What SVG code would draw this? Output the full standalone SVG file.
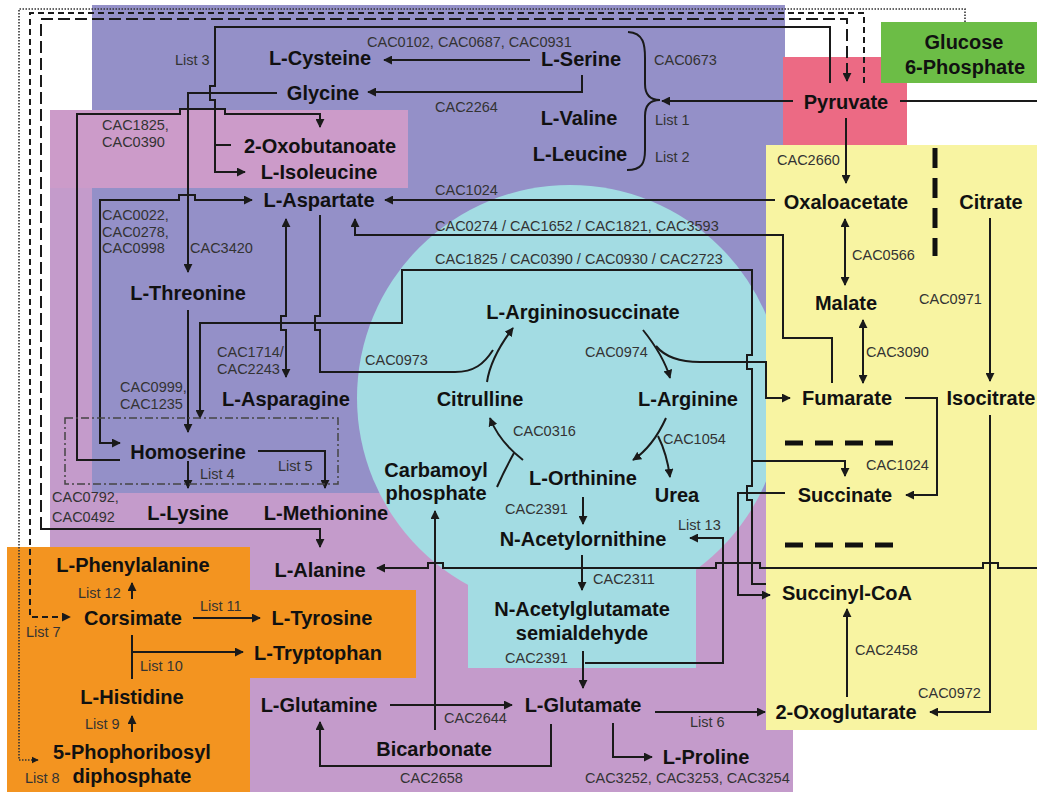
<svg xmlns="http://www.w3.org/2000/svg" width="1037" height="792" viewBox="0 0 1037 792">
<style>
.n{font-family:"Liberation Sans",Arial,sans-serif;font-weight:bold;font-size:20px;fill:#111;text-anchor:middle}
.l{font-family:"Liberation Sans",Arial,sans-serif;font-size:14.5px;fill:#333}
.c{stroke:#1a1a1a;stroke-width:2;fill:none}
.thin{stroke:#333;stroke-width:1.6;fill:none}
</style>
<defs>
<marker id="a" viewBox="0 0 10 10" refX="9" refY="5" markerWidth="4.5" markerHeight="4.5" orient="auto-start-reverse">
<path d="M0,0 L10,5 L0,10 z" fill="#1a1a1a"/>
</marker>
</defs>
<g id="background">
<rect x="50" y="110" width="743" height="682" fill="#c49bcb"/>
<rect x="92" y="5" width="693" height="488" fill="#9490c8"/>
<rect x="50" y="110" width="358" height="78" fill="#cc9bc9"/>
<circle cx="570" cy="398" r="213" fill="#a3dce3"/>
<rect x="468" y="560" width="228" height="108" fill="#a3dce3"/>
<rect x="783" y="57" width="124" height="90" fill="#ec6a84"/>
<rect x="766" y="145" width="271" height="585" fill="#f8f4a2"/>
<rect x="881" y="22" width="156" height="61" fill="#6cbd46"/>
<rect x="7" y="547" width="243" height="245" fill="#f39420"/>
<rect x="250" y="590" width="166" height="88" fill="#f39420"/>
</g>
<g id="connectors">
<path class="thin" d="M965 22 V9 H19 V760 H38" stroke-dasharray="1.5 1.5" marker-end="url(#a)"/>
<path class="c" d="M864 83 V13 H30 V617 H70" stroke-dasharray="6 4" marker-end="url(#a)"/>
<path class="c" d="M41 529 V19 H847 V81" stroke-width="2.5" stroke-dasharray="12 5" marker-end="url(#a)"/>
<path class="c" d="M41 520 V529 H320 V547" marker-end="url(#a)"/>
<path class="c" d="M830 83 V27 H215 V86 h-5 v14 h5 V172 H245" marker-end="url(#a)"/>
<path class="c" d="M215 145 H231"/>
<path class="c" d="M530 60 H384" marker-end="url(#a)"/>
<path class="c" d="M582 75 V92 H368" marker-end="url(#a)"/>
<path class="c" d="M793 101 H662" marker-end="url(#a)"/>
<path class="c" d="M628 32 C644 33 645 45 645 58 V84 C645 94 650 100 660 100 C650 100 645 106 645 116 V150 C645 163 642 170 627 170"/>
<path class="c" d="M900 101 H1037"/>
<path class="c" d="M846 118 V183" marker-end="url(#a)"/>
<path class="c" d="M277 93 H188 V272" marker-end="url(#a)"/>
<path class="c" d="M120 460 H77 V114 H180 v-5 h45 v5 H320 V127" marker-end="url(#a)"/>
<path class="c" d="M120 443 H100 V200 H179 v-5 h16 v5 H252" marker-start="url(#a)" marker-end="url(#a)"/>
<path class="c" d="M775 200 H385" marker-end="url(#a)"/>
<path class="c" d="M832 383 V338 H783 V235 H355 V219" marker-end="url(#a)"/>
<path class="c" d="M286 219 V316 h-5 v14 h5 V377" marker-start="url(#a)" marker-end="url(#a)"/>
<path class="c" d="M320 215 V316 h-5 v14 h5 V372 H455 C474 372 484 364 493 350"/>
<path class="c" d="M766 584 H752 V500 h-5 v-14 h5 V369 h-5 v-14 h5 V270 H402 V323 H200 V418" marker-end="url(#a)"/>
<path class="c" d="M752 461 H845 V476" marker-end="url(#a)"/>
<path class="c" d="M785 493 H738 V595 H770" marker-end="url(#a)"/>
<path class="c" d="M487 382 C490 362 500 345 513 328" marker-end="url(#a)"/>
<path class="c" d="M643 330 C655 345 665 360 670 378" marker-end="url(#a)"/>
<path class="c" d="M656 346 C665 357 680 362 700 362 H766 V398 H790" marker-end="url(#a)"/>
<path class="c" d="M666 418 C656 440 645 452 633 460" marker-end="url(#a)"/>
<path class="c" d="M658 436 C665 450 668 462 670 477" marker-end="url(#a)"/>
<path class="c" d="M523 460 C510 450 497 436 490 418" marker-end="url(#a)"/>
<path class="c" d="M497 487 Q505 469 514 453"/>
<path class="c" d="M583 497 V524" marker-end="url(#a)"/>
<path class="c" d="M582 555 V590" marker-end="url(#a)"/>
<path class="c" d="M583 651 V688" marker-end="url(#a)"/>
<path class="c" d="M585 663 H723 V538 H690" marker-end="url(#a)"/>
<path class="c" d="M655 712 H765" marker-end="url(#a)"/>
<path class="c" d="M390 705 H512" marker-end="url(#a)"/>
<path class="c" d="M435 730 V511" marker-end="url(#a)"/>
<path class="c" d="M551 724 V766 H320 V722" marker-end="url(#a)"/>
<path class="c" d="M613 723 V757 H652" marker-end="url(#a)"/>
<path class="c" d="M1037 568 H998 v-5 H983 v5 H760 v-5 H716 v5 H443 v-5 H428 v5 H377" marker-end="url(#a)"/>
<path class="c" d="M990 218 V381" marker-end="url(#a)"/>
<path class="c" d="M990 415 V712 H930" marker-end="url(#a)"/>
<path class="c" d="M847 697 V609" marker-end="url(#a)"/>
<path class="c" d="M845 219 V285" marker-start="url(#a)" marker-end="url(#a)"/>
<path class="c" d="M863 320 V383" marker-start="url(#a)" marker-end="url(#a)"/>
<path class="c" d="M905 398 H937 V495 H906" marker-end="url(#a)"/>
<path class="c" d="M188 310 V432" marker-end="url(#a)"/>
<path class="c" d="M188 461 V488" marker-end="url(#a)"/>
<path class="c" d="M258 451 H325 V488" marker-end="url(#a)"/>
<path class="c" d="M132 599 V583" marker-end="url(#a)"/>
<path class="c" d="M193 618 H260" marker-end="url(#a)"/>
<path class="c" d="M132 635 V679 M132 652 H243" marker-end="url(#a)"/>
<path class="c" d="M132 732 V716" marker-end="url(#a)"/>
<path d="M935 148 V256" stroke="#111" stroke-width="5" stroke-dasharray="20 10" fill="none"/>
<path d="M785 443 H897 M785 545 H897" stroke="#111" stroke-width="5" stroke-dasharray="18 12" fill="none"/>
<rect x="65" y="418" width="273" height="66" fill="none" stroke="#444" stroke-width="1.5" stroke-dasharray="8 3 2 3"/>
</g>
<g id="labels">
<text class="l" x="367" y="47">CAC0102, CAC0687, CAC0931</text>
<text class="l" x="654" y="65">CAC0673</text>
<text class="l" x="435" y="112">CAC2264</text>
<text class="l" x="655" y="125">List 1</text>
<text class="l" x="655" y="162">List 2</text>
<text class="l" x="435" y="195">CAC1024</text>
<text class="l" x="435" y="231">CAC0274 / CAC1652 / CAC1821, CAC3593</text>
<text class="l" x="435" y="264">CAC1825 / CAC0390 / CAC0930 / CAC2723</text>
<text class="l" x="175" y="65">List 3</text>
<text class="l" x="102" y="130">CAC1825,</text>
<text class="l" x="102" y="147">CAC0390</text>
<text class="l" x="102" y="220">CAC0022,</text>
<text class="l" x="102" y="237">CAC0278,</text>
<text class="l" x="102" y="253">CAC0998</text>
<text class="l" x="190" y="253">CAC3420</text>
<text class="l" x="777" y="165">CAC2660</text>
<text class="l" x="852" y="260">CAC0566</text>
<text class="l" x="919" y="304">CAC0971</text>
<text class="l" x="866" y="357">CAC3090</text>
<text class="l" x="866" y="470">CAC1024</text>
<text class="l" x="217" y="357">CAC1714/</text>
<text class="l" x="217" y="374">CAC2243</text>
<text class="l" x="120" y="392">CAC0999,</text>
<text class="l" x="120" y="409">CAC1235</text>
<text class="l" x="200" y="479">List 4</text>
<text class="l" x="278" y="471">List 5</text>
<text class="l" x="52" y="502">CAC0792,</text>
<text class="l" x="52" y="522">CAC0492</text>
<text class="l" x="365" y="365">CAC0973</text>
<text class="l" x="585" y="357">CAC0974</text>
<text class="l" x="513" y="436">CAC0316</text>
<text class="l" x="663" y="444">CAC1054</text>
<text class="l" x="505" y="514">CAC2391</text>
<text class="l" x="678" y="530">List 13</text>
<text class="l" x="593" y="584">CAC2311</text>
<text class="l" x="505" y="663">CAC2391</text>
<text class="l" x="444" y="723">CAC2644</text>
<text class="l" x="690" y="727">List 6</text>
<text class="l" x="400" y="783">CAC2658</text>
<text class="l" x="585" y="783">CAC3252, CAC3253, CAC3254</text>
<text class="l" x="855" y="655">CAC2458</text>
<text class="l" x="918" y="698">CAC0972</text>
<text class="l" x="78" y="598">List 12</text>
<text class="l" x="200" y="611">List 11</text>
<text class="l" x="26" y="637">List 7</text>
<text class="l" x="140" y="671">List 10</text>
<text class="l" x="85" y="729">List 9</text>
<text class="l" x="25" y="783">List 8</text>
</g>
<g id="n-cysteine"><text class="n" x="320" y="65">L-Cysteine</text></g>
<g id="n-serine"><text class="n" x="581" y="66">L-Serine</text></g>
<g id="n-glycine"><text class="n" x="323" y="100">Glycine</text></g>
<g id="n-oxobutanoate"><text class="n" x="320" y="153">2-Oxobutanoate</text></g>
<g id="n-isoleucine"><text class="n" x="319" y="179">L-Isoleucine</text></g>
<g id="n-aspartate"><text class="n" x="319" y="207">L-Aspartate</text></g>
<g id="n-valine"><text class="n" x="579" y="125">L-Valine</text></g>
<g id="n-leucine"><text class="n" x="580" y="161">L-Leucine</text></g>
<g id="n-pyruvate"><text class="n" x="846" y="109">Pyruvate</text></g>
<g id="n-g6p"><text class="n" x="964" y="49">Glucose</text><text class="n" x="965" y="74">6-Phosphate</text></g>
<g id="n-oxaloacetate"><text class="n" x="846" y="209">Oxaloacetate</text></g>
<g id="n-citrate"><text class="n" x="991" y="209">Citrate</text></g>
<g id="n-malate"><text class="n" x="846" y="310">Malate</text></g>
<g id="n-fumarate"><text class="n" x="847" y="405">Fumarate</text></g>
<g id="n-isocitrate"><text class="n" x="991" y="405">Isocitrate</text></g>
<g id="n-succinate"><text class="n" x="845" y="502">Succinate</text></g>
<g id="n-succinylcoa"><text class="n" x="847" y="600">Succinyl-CoA</text></g>
<g id="n-oxoglutarate"><text class="n" x="846" y="719">2-Oxoglutarate</text></g>
<g id="n-threonine"><text class="n" x="188" y="300">L-Threonine</text></g>
<g id="n-asparagine"><text class="n" x="286" y="406">L-Asparagine</text></g>
<g id="n-homoserine"><text class="n" x="188" y="459">Homoserine</text></g>
<g id="n-lysine"><text class="n" x="188" y="520">L-Lysine</text></g>
<g id="n-methionine"><text class="n" x="326" y="520">L-Methionine</text></g>
<g id="n-argininosuccinate"><text class="n" x="583" y="319">L-Argininosuccinate</text></g>
<g id="n-citrulline"><text class="n" x="480" y="406">Citrulline</text></g>
<g id="n-arginine"><text class="n" x="688" y="406">L-Arginine</text></g>
<g id="n-carbamoyl"><text class="n" x="436" y="477">Carbamoyl</text><text class="n" x="436" y="500">phosphate</text></g>
<g id="n-orthinine"><text class="n" x="583" y="485">L-Orthinine</text></g>
<g id="n-urea"><text class="n" x="677" y="502">Urea</text></g>
<g id="n-acetylornithine"><text class="n" x="583" y="546">N-Acetylornithine</text></g>
<g id="n-nags"><text class="n" x="582" y="616">N-Acetylglutamate</text><text class="n" x="582" y="640">semialdehyde</text></g>
<g id="n-glutamate"><text class="n" x="583" y="712">L-Glutamate</text></g>
<g id="n-proline"><text class="n" x="706" y="764">L-Proline</text></g>
<g id="n-bicarbonate"><text class="n" x="434" y="756">Bicarbonate</text></g>
<g id="n-glutamine"><text class="n" x="319" y="712">L-Glutamine</text></g>
<g id="n-alanine"><text class="n" x="320" y="577">L-Alanine</text></g>
<g id="n-tyrosine"><text class="n" x="322" y="625">L-Tyrosine</text></g>
<g id="n-tryptophan"><text class="n" x="318" y="660">L-Tryptophan</text></g>
<g id="n-phenylalanine"><text class="n" x="133" y="572">L-Phenylalanine</text></g>
<g id="n-corsimate"><text class="n" x="133" y="625">Corsimate</text></g>
<g id="n-histidine"><text class="n" x="132" y="704">L-Histidine</text></g>
<g id="n-prpp"><text class="n" x="132" y="759">5-Phophoribosyl</text><text class="n" x="132" y="783">diphosphate</text></g>
</svg>
